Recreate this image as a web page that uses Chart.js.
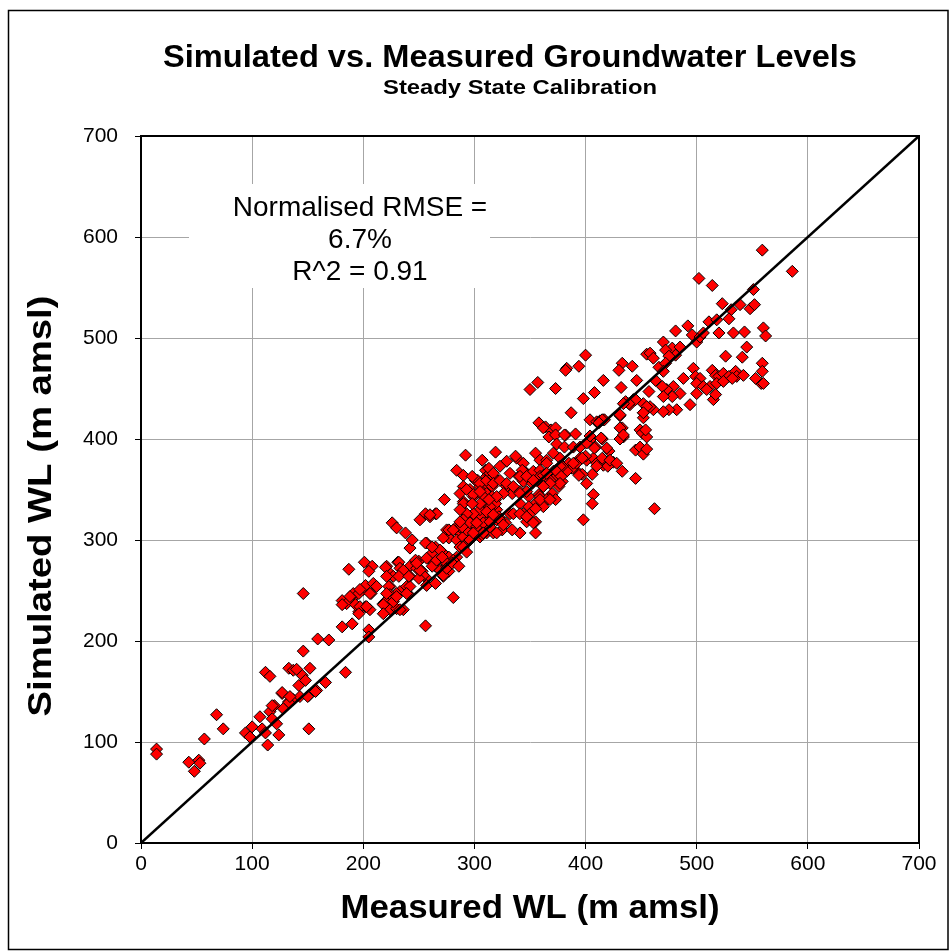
<!DOCTYPE html>
<html>
<head>
<meta charset="utf-8">
<script src="https://cdn.jsdelivr.net/npm/chart.js@4.4.1/dist/chart.umd.min.js"></script>
<style>
  html, body { margin: 0; padding: 0; background: #fff; }
  #wrap { width: 950px; height: 951px; }
</style>
</head>
<body>
<div id="wrap"><canvas id="myChart" width="950" height="951"></canvas></div>
<script>
const chartTitle = 'Simulated vs. Measured Groundwater Levels';
const chartSubtitle = 'Steady State Calibration';
const xAxisTitle = 'Measured WL (m amsl)';
const yAxisTitle = 'Simulated WL (m amsl)';
const statsLines = ['Normalised RMSE =', '6.7%', 'R^2 = 0.91'];
const axisTicks = [0, 100, 200, 300, 400, 500, 600, 700];
const oneToOneLine = [0, 700];

// [measured, simulated] in m amsl
const wlPoints = [
  [14,93],[14,88],[43,80],[52,82],[53,79],[48,71],[57,103],[68,127],[74,113],[94,109],
  [98,105],[100,115],[107,125],[109,113],[112,109],[114,97],[116,130],[120,136],[118,123],[122,118],
  [124,107],[127,148],[129,134],[133,140],[137,142],[142,156],[143,145],[145,166],[148,161],[151,113],
  [151,146],[133,173],[137,171],[140,172],[112,169],[116,165],[146,190],[152,173],[146,247],[159,202],
  [169,201],[158,151],[166,159],[157,150],[150,145],[127,149],[133,139],[118,136],[128,133],[134,145],
  [184,169],[181,240],[190,242],[185,237],[181,236],[191,247],[200,251],[202,255],[209,257],[207,247],
  [202,234],[206,231],[196,229],[218,237],[224,231],[230,232],[236,231],[240,254],[224,254],[233,249],
  [229,244],[224,267],[227,264],[221,274],[181,214],[190,217],[205,211],[205,204],[187,271],[201,278],
  [208,274],[205,269],[220,273],[231,278],[236,270],[242,274],[248,278],[257,297],[242,292],[265,293],
  [271,288],[277,283],[196,247],[193,236],[197,234],[196,227],[203,234],[221,264],[223,254],[230,247],
  [224,246],[220,239],[218,236],[218,227],[232,278],[233,272],[237,269],[242,264],[239,254],[241,246],
  [227,239],[233,231],[226,317],[230,312],[238,307],[244,300],[251,320],[256,326],[260,323],[265,326],
  [273,340],[256,297],[250,279],[248,272],[253,269],[257,262],[247,280],[259,282],[262,287],[269,290],
  [272,280],[265,274],[269,270],[275,274],[272,264],[277,269],[281,243],[256,215],[275,310],[283,312],
  [287,307],[277,302],[284,300],[290,303],[293,297],[287,293],[292,384],[284,369],[290,364],[307,379],
  [319,387],[290,353],[296,350],[290,338],[289,330],[299,343],[301,359],[310,369],[311,363],[316,366],
  [305,353],[308,350],[293,323],[299,320],[305,326],[311,323],[299,313],[307,313],[314,317],[320,320],
  [293,310],[302,307],[311,307],[317,307],[296,300],[305,303],[290,293],[293,288],[284,283],[281,280],
  [275,277],[307,336],[311,333],[316,340],[320,330],[314,326],[212,254],[206,247],[197,251],[188,244],
  [230,244],[221,247],[242,254],[239,247],[254,265],[250,262],[257,255],[265,257],[272,265],[257,282],
  [262,274],[266,280],[271,283],[275,272],[280,277],[286,274],[251,270],[248,277],[236,270],[232,264],
  [241,264],[262,293],[272,302],[277,310],[287,313],[303,359],[313,353],[314,364],[319,340],[311,336],
  [305,323],[322,323],[314,313],[307,305],[400,483],[383,470],[382,468],[394,472],[433,475],[430,468],
  [442,472],[416,458],[432,451],[446,458],[350,449],[357,456],[373,450],[398,440],[408,446],[387,426],
  [436,437],[440,434],[443,439],[404,419],[410,417],[416,419],[431,423],[433,411],[434,402],[431,400],
  [445,389],[358,416],[364,412],[369,409],[373,411],[367,402],[373,404],[382,404],[391,405],[374,395],
  [381,392],[389,392],[395,392],[404,399],[409,392],[415,400],[421,388],[338,381],[344,376],[355,386],
  [359,379],[365,379],[371,386],[377,381],[385,376],[395,381],[401,379],[407,381],[410,376],[416,374],
  [419,377],[425,377],[433,368],[445,361],[394,366],[401,356],[407,345],[406,336],[398,320],[388,371],
  [392,376],[383,368],[379,373],[371,368],[374,363],[379,358],[368,359],[376,353],[370,346],[373,340],
  [367,341],[362,353],[356,359],[358,345],[332,366],[340,363],[347,366],[353,368],[344,358],[352,356],
  [359,369],[359,363],[362,364],[329,353],[334,346],[341,348],[349,343],[355,336],[359,343],[365,340],
  [362,333],[349,333],[341,336],[344,326],[350,326],[355,318],[332,326],[328,317],[325,310],[320,307],
  [298,363],[305,356],[311,359],[314,366],[317,363],[320,359],[316,353],[311,346],[308,343],[316,343],
  [319,336],[314,333],[305,330],[299,326],[293,326],[290,336],[287,346],[287,330],[290,320],[296,317],
  [302,313],[308,317],[314,318],[308,307],[299,307],[289,313],[281,310],[355,307],[341,307],[334,310],
  [347,318],[353,317],[420,373],[410,373],[406,365],[397,365],[394,364],[389,376],[377,373],[373,369],
  [365,376],[343,369],[337,383],[329,378],[323,373],[313,371],[317,366],[293,350],[299,345],[305,348],
  [317,356],[323,359],[329,356],[335,353],[341,363],[347,363],[353,359],[365,366],[378,363],[377,356],
  [368,356],[362,353],[347,348],[341,346],[326,346],[320,343],[313,340],[305,336],[298,336],[311,328],
  [317,325],[323,320],[335,326],[341,326],[347,323],[355,331],[359,340],[368,340],[266,326],[260,325],
  [287,318],[302,317],[326,315],[419,391],[408,391],[401,396],[400,383],[397,381],[415,381],[422,379],
  [428,376],[362,411],[381,404],[404,403],[414,401],[455,484],[413,418],[417,419],[452,426],[449,409],
  [457,447],[452,435],[559,587],[586,566],[502,559],[514,552],[551,548],[523,534],[531,528],[529,519],
  [548,529],[552,533],[539,533],[511,516],[518,518],[520,505],[533,505],[543,506],[560,510],[562,502],
  [481,507],[492,512],[496,503],[500,496],[503,501],[506,505],[470,496],[478,490],[485,491],[481,483],
  [472,488],[475,482],[458,485],[461,480],[526,482],[541,481],[545,491],[559,475],[559,467],[558,455],
  [466,471],[472,475],[470,467],[463,458],[497,470],[488,460],[499,462],[503,460],[514,468],[517,463],
  [520,462],[524,465],[529,462],[535,467],[536,462],[542,463],[553,460],[560,455],[500,455],[506,452],
  [512,452],[518,455],[524,457],[532,460],[500,445],[515,439],[517,444],[509,449],[494,434],[485,445],
  [479,452],[478,442],[473,449],[469,452],[470,442],[482,429],[475,429],[470,427],[461,429],[458,432],
  [455,432],[452,421],[452,426],[445,439],[439,435],[434,435],[431,424],[415,419],[431,411],[434,404],
  [451,406],[455,402],[454,409],[412,416],[449,392],[452,385],[455,390],[462,331]
];

const fontFamily = '"Liberation Sans", Arial, sans-serif';

// draws centred text squeezed or stretched to a given width
function stretchText(ctx, text, x, y, font, width, angle) {
  ctx.save();
  ctx.font = font;
  const natural = ctx.measureText(text).width;
  ctx.translate(x, y);
  if (angle) ctx.rotate(angle);
  ctx.scale(width / natural, 1);
  ctx.textAlign = 'center';
  ctx.textBaseline = 'middle';
  ctx.fillText(text, 0, 0);
  ctx.restore();
}

const decorations = {
  id: 'decorations',
  beforeDraw(chart) {
    const ctx = chart.ctx;
    ctx.save();
    ctx.fillStyle = '#fff';
    ctx.fillRect(0, 0, chart.width, chart.height);
    ctx.restore();
  },
  beforeDatasetsDraw(chart) {
    const ctx = chart.ctx;
    const a = chart.chartArea;
    ctx.save();
    // stats text box, white behind it
    ctx.fillStyle = '#fff';
    ctx.fillRect(189, 184, 301, 104);
    ctx.fillStyle = '#000';
    ctx.font = '28px ' + fontFamily;
    ctx.textAlign = 'center';
    ctx.textBaseline = 'middle';
    ctx.fillText(statsLines[0], 360, 208);
    ctx.fillText(statsLines[1], 360, 240);
    ctx.fillText(statsLines[2], 360, 272);
    // plot frame
    ctx.strokeStyle = '#000';
    ctx.lineWidth = 2;
    ctx.strokeRect(a.left, a.top, a.right - a.left, a.bottom - a.top);
    ctx.restore();
  },
  afterDraw(chart) {
    const ctx = chart.ctx;
    ctx.save();
    ctx.fillStyle = '#000';
    stretchText(ctx, chartTitle, 510, 58, 'bold 32px ' + fontFamily, 694);
    stretchText(ctx, chartSubtitle, 520, 88, 'bold 21px ' + fontFamily, 274);
    stretchText(ctx, xAxisTitle, 530, 909, 'bold 33px ' + fontFamily, 379);
    stretchText(ctx, yAxisTitle, 42, 506, 'bold 33px ' + fontFamily, 421, -Math.PI / 2);
    // outer chart border
    ctx.strokeStyle = '#000';
    ctx.lineWidth = 1.5;
    ctx.strokeRect(8.5, 10.5, 939.5, 939);
    ctx.restore();
  }
};

const axisStyle = (fitSide, fitSize) => ({
  type: 'linear',
  min: axisTicks[0],
  max: axisTicks[axisTicks.length - 1],
  afterBuildTicks: s => { s.ticks = axisTicks.map(v => ({ value: v })); },
  afterFit: s => { s[fitSide] = fitSize; },
  ticks: {
    color: '#000',
    font: { family: fontFamily, size: 21 },
    padding: fitSide === 'width' ? 17 : 3
  },
  grid: { color: '#a6a6a6', lineWidth: 1, tickColor: '#000', tickLength: 6 },
  border: { color: '#000', width: 2 }
});

const ctx = document.getElementById('myChart').getContext('2d');
new Chart(ctx, {
  type: 'scatter',
  data: {
    datasets: [
      {
        type: 'line',
        data: oneToOneLine.map(v => ({ x: v, y: v })),
        borderColor: '#000',
        borderWidth: 2.5,
        pointRadius: 0,
        order: 0
      },
      {
        data: wlPoints.map(p => ({ x: p[0], y: p[1] })),
        pointStyle: 'rectRot',
        pointRadius: 6,
        pointBackgroundColor: '#ff0000',
        pointBorderColor: '#000',
        pointBorderWidth: 1,
        order: 1
      }
    ]
  },
  options: {
    responsive: false,
    animation: false,
    devicePixelRatio: 1,
    layout: { padding: { top: 136, right: 31, left: 0, bottom: 0 } },
    plugins: { legend: { display: false }, tooltip: { enabled: false }, title: { display: false } },
    scales: {
      x: axisStyle('height', 108),
      y: axisStyle('width', 141)
    }
  },
  plugins: [decorations]
});
</script>
</body>
</html>
